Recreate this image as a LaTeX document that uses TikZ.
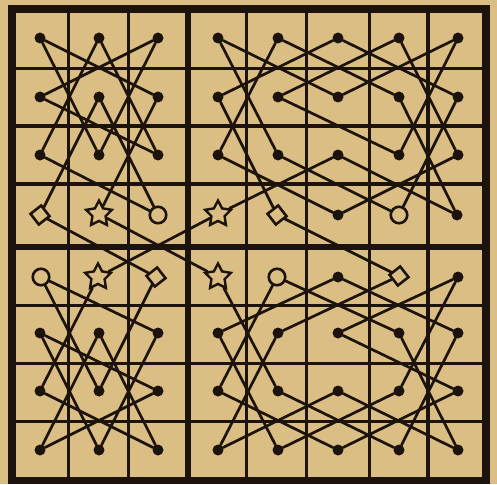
\documentclass[tikz,border=0pt]{standalone}
\usetikzlibrary{shapes.geometric}
\definecolor{paper}{RGB}{218,190,131}
\definecolor{ink}{RGB}{28,19,12}
\begin{document}
\begin{tikzpicture}[x=1pt,y=-1pt,
  thin/.style={draw=ink,line width=3.4pt},
  heavy/.style={draw=ink,line width=6.8pt},
  move/.style={draw=ink,line width=2.7pt,line cap=round},
  dot/.style={circle,fill=ink,inner sep=0pt,minimum size=11pt},
  ring/.style={circle,draw=ink,fill=paper,line width=2.6pt,inner sep=0pt,minimum size=16.5pt},
  lozenge/.style={rectangle,draw=ink,fill=paper,line width=2.6pt,inner sep=0pt,minimum size=13.5pt,rotate=38},
  starmark/.style={star,star points=5,star point ratio=1.95,draw=ink,fill=paper,line width=2.4pt,inner sep=0pt,minimum size=27pt},
]
\fill[paper] (0,0) rectangle (497,484);
\useasboundingbox (0,0) rectangle (497,484);
% grid
\foreach \x in {68.5,128.5,246.5,306.5,369.5,428}
  \draw[thin] (\x,9) -- (\x,480);
\foreach \y in {68.5,126,184,305.5,363.5,421.5}
  \draw[thin] (12,\y) -- (486,\y);
\draw[heavy] (188,9) -- (188,480);
\draw[heavy] (12,247) -- (486,247);
\draw[draw=ink,line width=7.5pt] (12,9) rectangle (486,480.5);
% cells
\foreach \c/\x in {0/40,1/99,2/158,3/218,4/278,5/338,6/399,7/458}{
  \foreach \r/\y in {0/38,1/97,2/155,5/333,6/391,7/450}{
    \node[dot] (n\c\r) at (\x,\y) {};
  }
}
\node[lozenge]  (n03) at (40,215) {};
\node[starmark] (n13) at (99,214) {};
\node[ring]     (n23) at (158,215) {};
\node[starmark] (n33) at (218,214) {};
\node[lozenge]  (n43) at (277,215) {};
\node[dot]      (n53) at (338,215) {};
\node[ring]     (n63) at (399,215) {};
\node[dot]      (n73) at (457,215) {};
\node[ring]     (n04) at (41,277) {};
\node[starmark] (n14) at (98,277) {};
\node[lozenge]  (n24) at (156,277) {};
\node[starmark] (n34) at (218,277) {};
\node[ring]     (n44) at (277,277) {};
\node[dot]      (n54) at (338,277) {};
\node[lozenge]  (n64) at (399,276) {};
\node[dot]      (n74) at (458,277) {};
% knight's tour
\foreach \a/\b in {13/21,21/00,00/12,12/20,20/01,01/22,22/10,10/02,02/23,23/11,11/03,
  03/24,24/16,16/04,04/25,25/17,17/05,05/26,26/07,07/15,15/27,27/06,06/14,
  14/33,33/52,52/73,73/61,61/40,40/32,32/53,53/72,72/60,60/41,41/62,62/70,70/51,51/30,30/42,42/63,63/71,71/50,50/31,31/43,
  43/64,64/45,45/37,37/56,56/77,77/65,65/44,44/36,36/57,57/76,76/55,55/74,74/66,66/47,47/35,35/54,54/75,75/67,67/46,46/34,
  34/13}
  \draw[move] (n\a) -- (n\b);
\end{tikzpicture}
\end{document}
